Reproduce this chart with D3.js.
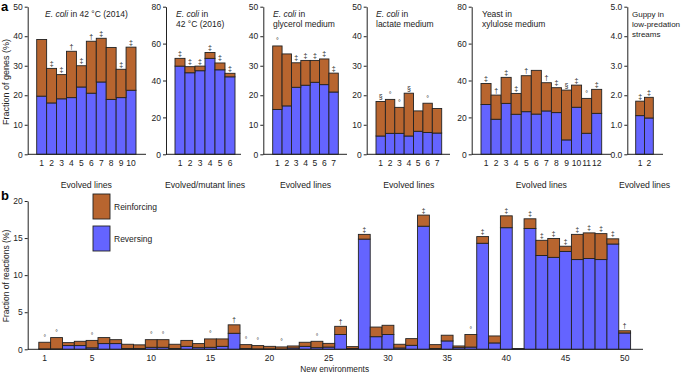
<!DOCTYPE html>
<html>
<head>
<meta charset="utf-8">
<script src="https://cdn.jsdelivr.net/npm/d3@7"></script>
<style>
  body { margin: 0; background: #fff; }
  svg { display: block; font-family: "Liberation Sans", Arial, sans-serif; }
</style>
</head>
<body>
<svg width="682" height="373"></svg>
<script>
// ---- panel a: fraction of genes (%) ----
const ecoli2014Reversing   = [19.7, 17.4, 18.8, 19.2, 22.8, 20.7, 24.5, 18.6, 19.2, 21.7];
const ecoli2014Reinforcing = [19.2, 11.7, 8.2, 15.7, 7.2, 17.6, 14.8, 17.6, 9.6, 14.6];
const ecoli2014Marks       = ["", "‡", "‡", "†", "‡", "†", "‡", "", "‡", "‡"];

const ecoli2016Reversing   = [47.8, 44.2, 45.3, 52.0, 45.8, 42.0];
const ecoli2016Reinforcing = [4.2, 3.3, 2.5, 3.2, 3.7, 1.9];
const ecoli2016Marks       = ["‡", "‡", "‡", "‡", "‡", "‡"];

const glycerolReversing   = [15.2, 16.4, 22.7, 23.4, 24.4, 23.6, 21.1];
const glycerolReinforcing = [21.5, 17.6, 8.3, 8.4, 7.4, 8.7, 6.4];
const glycerolMarks       = ["°", "", "‡", "‡", "‡", "‡", "‡"];

const lactateReversing   = [6.2, 7.1, 7.1, 6.2, 7.8, 7.4, 7.2];
const lactateReinforcing = [11.7, 11.5, 8.8, 14.5, 6.9, 9.9, 8.3];
const lactateMarks       = ["§", "°", "°", "§", "", "°", ""];

const yeastReversing   = [27.0, 19.0, 27.6, 21.7, 23.1, 21.8, 23.5, 22.6, 7.8, 25.5, 11.4, 22.2];
const yeastReinforcing = [11.4, 13.1, 14.1, 11.3, 19.5, 23.7, 15.3, 13.5, 27.0, 12.0, 18.9, 13.0];
const yeastMarks       = ["‡", "†", "‡", "‡", "†", "", "†", "‡", "§", "‡", "°", "‡"];

const guppyReversing   = [1.31, 1.23];
const guppyReinforcing = [0.49, 0.70];
const guppyMarks       = ["‡", "‡"];

// ---- panel b: fraction of reactions (%) in 50 new environments ----
const envReversing = [
  0.05, 0.05, 0.5, 0.5, 0.2, 0.77, 0.77, 0.1, 0.1, 0.27,
  0.27, 0.1, 0.4, 0.22, 0.27, 0.4, 2.16, 0.1, 0.05, 0.05,
  0.02, 0.18, 0.4, 0.22, 0.3, 2.0, 0.1, 14.86, 1.7, 2.0,
  0.18, 0.54, 16.6, 0.1, 1.13, 0.22, 0.3, 14.3, 0.86, 16.4,
  0.05, 16.3, 12.65, 12.4, 13.2, 12.1, 12.25, 12.1, 14.2, 2.2
];
const envReinforcing = [
  0.9, 1.53, 0.4, 0.58, 1.0, 0.81, 0.53, 0.58, 0.5, 1.03,
  1.03, 0.58, 0.8, 0.55, 1.13, 1.0, 1.14, 0.53, 0.45, 0.35,
  0.3, 0.27, 0.55, 0.86, 0.5, 1.1, 0.26, 0.64, 1.3, 1.24,
  0.5, 0.9, 1.5, 0.53, 0.77, 0.23, 1.7, 0.9, 0.94, 1.6,
  0.05, 1.3, 2.05, 2.55, 0.7, 3.4, 3.45, 3.5, 0.7, 0.3
];
const envMarks = [
  "°", "°", "", "", "°", "", "", "", "", "°",
  "°", "", "", "", "°", "", "†", "°", "°", "",
  "°", "", "", "°", "", "†", "", "‡", "", "",
  "", "", "‡", "", "", "", "°", "‡", "", "‡",
  "", "‡", "‡", "‡", "‡", "‡", "‡", "‡", "‡", "†"
];
const envTicks = [1, 5, 10, 15, 20, 25, 30, 35, 40, 45, 50];

const legendLabels = ["Reinforcing", "Reversing"];

const reinforcingColor = "#b8652f";
const reversingColor = "#6464ff";
const inkColor = "#222";
const smallFont = "8.5px";

const svg = d3.select("svg");

// Layout of the six sub-panels in a
const subPanels = [
  { rev: ecoli2014Reversing, reinf: ecoli2014Reinforcing, marks: ecoli2014Marks,
    axisX: 27.7, x0: 36.7, x1: 136, axisEnd: 146, ymax: 50, step: 10,
    xLabel: "Evolved lines", title: [[["E. coli", true], [" in 42 °C (2014)", false]]], titleX: 45 },
  { rev: ecoli2016Reversing, reinf: ecoli2016Reinforcing, marks: ecoli2016Marks,
    axisX: 166, x0: 175, x1: 235, axisEnd: 241, ymax: 80, step: 20,
    xLabel: "Evolved/mutant lines", title: [[["E. coli", true], [" in", false]], [["42 °C (2016)", false]]], titleX: 176 },
  { rev: glycerolReversing, reinf: glycerolReinforcing, marks: glycerolMarks,
    axisX: 263.3, x0: 272.7, x1: 338.3, axisEnd: 347, ymax: 50, step: 10,
    xLabel: "Evolved lines", title: [[["E. coli", true], [" in", false]], [["glycerol medium", false]]], titleX: 273 },
  { rev: lactateReversing, reinf: lactateReinforcing, marks: lactateMarks,
    axisX: 366.7, x0: 376, x1: 441.7, axisEnd: 450, ymax: 50, step: 10,
    xLabel: "Evolved lines", title: [[["E. coli", true], [" in", false]], [["lactate medium", false]]], titleX: 376 },
  { rev: yeastReversing, reinf: yeastReinforcing, marks: yeastMarks,
    axisX: 471.7, x0: 481, x1: 601.7, axisEnd: 611, ymax: 80, step: 20,
    xLabel: "Evolved lines", title: [[["Yeast in", false]], [["xylulose medium", false]]], titleX: 482 },
  { rev: guppyReversing, reinf: guppyReinforcing, marks: guppyMarks,
    axisX: 627.3, x0: 635.7, x1: 653.3, axisEnd: 663, ymax: 5, step: 1,
    xLabel: "Evolved lines", title: [[["Guppy in", false]], [["low-predation", false]], [["streams", false]]],
    titleX: 632, titleSize: "8px" }
];

function drawStacks(g, x, y, rev, reinf, marks, markSize) {
  const rows = rev.map((r, i) => ({ key: i + 1, rev: r, reinf: reinf[i], mark: marks[i] }));

  // reversing (blue) at the bottom
  g.selectAll(".rev")
    .data(rows)
    .enter().append("rect")
    .attr("class", "rev")
    .attr("x", d => x(d.key))
    .attr("width", x.bandwidth())
    .attr("y", d => y(d.rev))
    .attr("height", d => y(0) - y(d.rev))
    .attr("fill", reversingColor)
    .attr("stroke", inkColor)
    .attr("stroke-width", 0.9);

  // reinforcing (brown) on top
  g.selectAll(".reinf")
    .data(rows)
    .enter().append("rect")
    .attr("class", "reinf")
    .attr("x", d => x(d.key))
    .attr("width", x.bandwidth())
    .attr("y", d => y(d.rev + d.reinf))
    .attr("height", d => y(d.rev) - y(d.rev + d.reinf))
    .attr("fill", reinforcingColor)
    .attr("stroke", inkColor)
    .attr("stroke-width", 0.9);

  // significance symbols
  g.selectAll(".mark")
    .data(rows.filter(d => d.mark))
    .enter().append("text")
    .attr("class", "mark")
    .attr("x", d => x(d.key) + x.bandwidth() / 2)
    .attr("y", d => y(d.rev + d.reinf) - 2.5)
    .attr("text-anchor", "middle")
    .attr("font-size", markSize)
    .attr("fill", inkColor)
    .text(d => d.mark);
}

function yAxis(g, y, ticks) {
  g.call(d3.axisLeft(y).tickValues(ticks).tickSize(3).tickSizeOuter(0).tickPadding(2));
  g.attr("font-family", null).attr("font-size", null);
  g.selectAll("text").attr("font-size", smallFont).attr("fill", inkColor);
  g.selectAll("line, path").attr("stroke", inkColor);
}

// ---- panel a ----
const yA0 = 154.3, yA1 = 6.7;

subPanels.forEach(p => {
  const g = svg.append("g");
  const n = p.rev.length;
  const x = d3.scaleBand().domain(d3.range(1, n + 1)).range([p.x0, p.x1]).padding(0);
  const y = d3.scaleLinear().domain([0, p.ymax]).range([yA0, yA1]);

  drawStacks(g, x, y, p.rev, p.reinf, p.marks, "7px");

  g.append("g")
    .attr("transform", `translate(${p.axisX},0)`)
    .call(sel => yAxis(sel, y, d3.range(0, p.ymax + p.step / 2, p.step)));

  g.append("line")
    .attr("x1", p.axisX).attr("x2", p.axisEnd)
    .attr("y1", y(0)).attr("y2", y(0))
    .attr("stroke", inkColor);

  g.selectAll(".xt")
    .data(x.domain())
    .enter().append("text")
    .attr("x", d => x(d) + x.bandwidth() / 2)
    .attr("y", 166)
    .attr("text-anchor", "middle")
    .attr("font-size", smallFont)
    .attr("fill", inkColor)
    .text(d => d);

  g.append("text")
    .attr("x", (p.x0 + p.x1) / 2)
    .attr("y", 188)
    .attr("text-anchor", "middle")
    .attr("font-size", "8.7px")
    .attr("fill", inkColor)
    .text(p.xLabel);

  // title lines, "E. coli" set in italics
  p.title.forEach((line, li) => {
    const t = g.append("text")
      .attr("x", p.titleX)
      .attr("y", 16.5 + li * 10.3)
      .attr("font-size", p.titleSize || smallFont)
      .attr("fill", inkColor);
    line.forEach(([s, it]) => {
      t.append("tspan").attr("font-style", it ? "italic" : "normal").text(s);
    });
  });
});

svg.append("text")
  .attr("transform", "translate(9,82) rotate(-90)")
  .attr("text-anchor", "middle")
  .attr("font-size", "9px")
  .attr("fill", inkColor)
  .text("Fraction of genes (%)");

svg.append("text")
  .attr("x", 1).attr("y", 11)
  .attr("font-size", "13px")
  .attr("font-weight", "bold")
  .text("a");

// ---- panel b ----
const gb = svg.append("g");
const xb = d3.scaleBand().domain(d3.range(1, 51)).range([38.8, 630.6]).padding(0);
const yb = d3.scaleLinear().domain([0, 20]).range([349.3, 201]);

drawStacks(gb, xb, yb, envReversing, envReinforcing, envMarks, "6.5px");

gb.append("g")
  .attr("transform", "translate(27.7,0)")
  .call(sel => yAxis(sel, yb, [0, 5, 10, 15, 20]));

gb.append("line")
  .attr("x1", 27.7).attr("x2", 643)
  .attr("y1", yb(0)).attr("y2", yb(0))
  .attr("stroke", inkColor);

gb.selectAll(".xt")
  .data(envTicks)
  .enter().append("text")
  .attr("x", d => xb(d) + xb.bandwidth() / 2)
  .attr("y", 360.5)
  .attr("text-anchor", "middle")
  .attr("font-size", smallFont)
  .attr("fill", inkColor)
  .text(d => d);

gb.append("text")
  .attr("x", (38.8 + 630.6) / 2)
  .attr("y", 372)
  .attr("text-anchor", "middle")
  .attr("font-size", "8.3px")
  .attr("fill", inkColor)
  .text("New environments");

svg.append("text")
  .attr("transform", "translate(9,276) rotate(-90)")
  .attr("text-anchor", "middle")
  .attr("font-size", "8.5px")
  .attr("fill", inkColor)
  .text("Fraction of reactions (%)");

svg.append("text")
  .attr("x", 1).attr("y", 200)
  .attr("font-size", "13px")
  .attr("font-weight", "bold")
  .text("b");

// Legend
const legend = svg.append("g")
  .selectAll("g")
  .data(legendLabels)
  .enter().append("g")
  .attr("transform", (d, i) => `translate(93,${194 + i * 32})`);

legend.append("rect")
  .attr("width", 17).attr("height", 25)
  .attr("fill", (d, i) => i === 0 ? reinforcingColor : reversingColor)
  .attr("stroke", inkColor)
  .attr("stroke-width", 0.9);

legend.append("text")
  .attr("x", 21).attr("y", 16)
  .attr("font-size", smallFont)
  .attr("fill", inkColor)
  .text(d => d);
</script>
</body>
</html>
